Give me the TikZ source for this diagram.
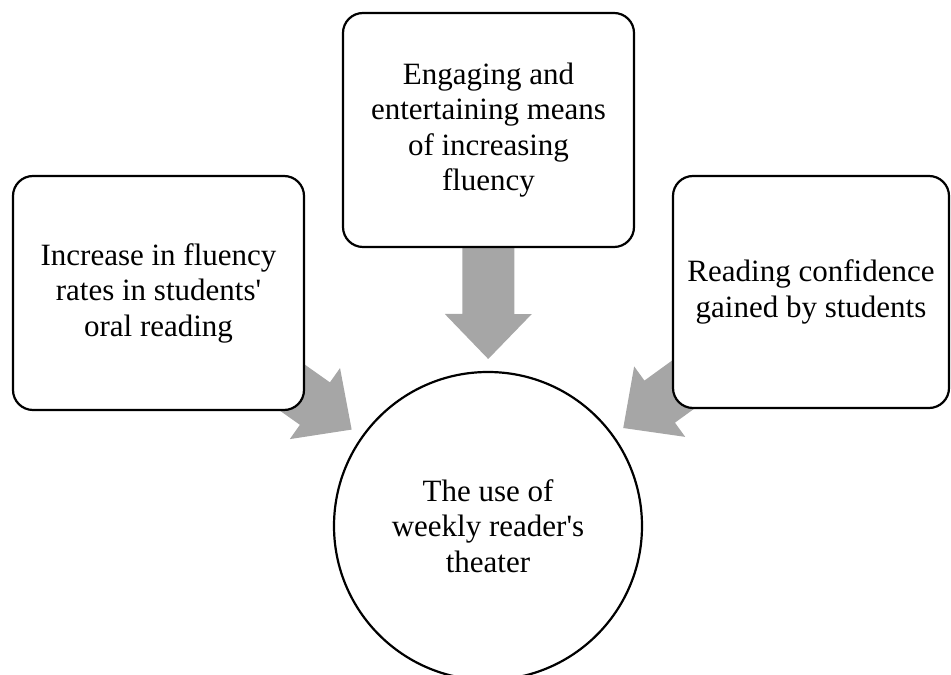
\documentclass[tikz,border=0pt]{standalone}
\usepackage{fontspec}
\newfontfamily\boxfont{Liberation Serif}
\usetikzlibrary{calc}
\pgfdeclarelayer{background}
\pgfsetlayers{background,main}
\definecolor{arrowgray}{RGB}{166,166,166}
\tikzset{
  box/.style={draw=black, line width=2.2pt, fill=white, rounded corners=20pt,
    inner sep=0pt, align=center, font=\boxfont\fontsize{31}{35.5}\selectfont},
  roundbox/.style={draw=black, line width=2.2pt, fill=white, circle,
    inner sep=0pt, minimum size=308pt, align=center, font=\boxfont\fontsize{31}{35.5}\selectfont},
  blockarrow/.style={fill=arrowgray, draw=none}
}
\newcommand\myblockarrow[2]{%
  \coordinate (tip) at ($(#2.center)!167pt!(#1.center)$);
  \coordinate (hb) at ($(#2.center)!212pt!(#1.center)$);
  \coordinate (se) at ($(#2.center)!330pt!(#1.center)$);
  \fill[blockarrow] (tip) -- ($(hb)!43.5pt!90:(tip)$) -- ($(hb)!26pt!90:(tip)$)
    -- ($(se)!26pt!90:(hb)$) -- ($(se)!26pt!-90:(hb)$)
    -- ($(hb)!26pt!-90:(tip)$) -- ($(hb)!43.5pt!-90:(tip)$) -- cycle;
}
\begin{document}
\begin{tikzpicture}[x=1pt,y=1pt]
\useasboundingbox (0,0) rectangle (951,675);
\clip (0,0) rectangle (951,675);
\node[box, minimum width=291pt, minimum height=234pt] (L) at (158.5,382)
  {Increase in fluency\\rates in students'\\oral reading};
\node[box, minimum width=291pt, minimum height=234pt] (T) at (488.5,545)
  {Engaging and\\entertaining means\\of increasing\\fluency};
\node[box, minimum width=276pt, minimum height=232pt] (R) at (811,383)
  {Reading confidence\\gained by students};
\node[roundbox] (C) at (488,149)
  {The use of\\weekly reader's\\theater};
\begin{pgfonlayer}{background}
  \myblockarrow{L}{C}
  \myblockarrow{T}{C}
  \myblockarrow{R}{C}
\end{pgfonlayer}
\end{tikzpicture}
\end{document}
